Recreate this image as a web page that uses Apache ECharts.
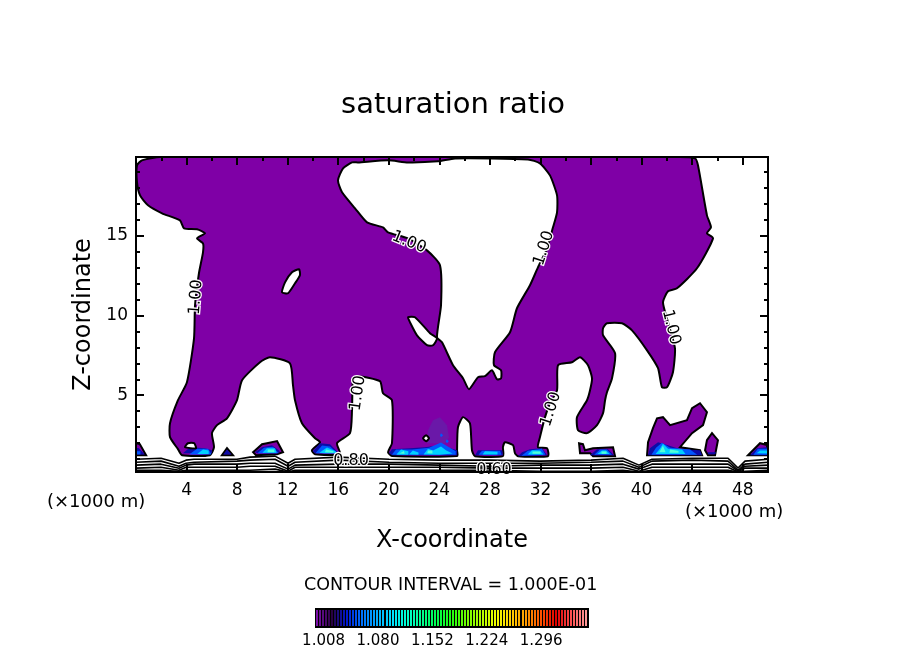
<!DOCTYPE html>
<html>
<head>
<meta charset="utf-8">
<style>html,body{margin:0;padding:0;background:#fff}#main{width:904px;height:654px}</style>
<script src="https://cdn.jsdelivr.net/npm/echarts@6/dist/echarts.min.js"></script>
</head>
<body>
<div id="main"></div>
<script>
// tick labels
var xTicks = [4, 8, 12, 16, 20, 24, 28, 32, 36, 40, 44, 48];
var xMinorTicks = [2, 6, 10, 14, 18, 22, 26, 30, 34, 38, 42, 46];
var zTicks = [5, 10, 15];
var zMinorTicks = [1, 2, 3, 4, 6, 7, 8, 9, 11, 12, 13, 14, 16, 17, 18, 19];
var barTicks = [1.008, 1.080, 1.152, 1.224, 1.296];

// the 1.00 contour, [x, z]
var mainRegion = [[0.08,19.38],[0.08,18.31],[0.32,17.5],[0.95,16.88],[2.06,16.38],[3.48,15.94],[3.8,15.44],[4.83,15.38],[5.46,15.13],[4.83,14.81],[5.3,14.5],[5.3,13.94],[4.98,12.63],[4.67,10.63],[4.59,8.56],[4.03,5.81],[3.32,4.69],[2.69,3.25],[2.69,2.38],[3.32,1.63],[3.64,1.25],[5.85,1.25],[6.17,1.75],[6.01,2.63],[6.41,3.13],[7.2,3.56],[7.99,4.69],[8.39,5.94],[9.81,7.06],[10.6,7.38],[12.18,7],[12.42,5.63],[12.58,4.69],[13.13,3.25],[14.16,2.31],[14.56,2.06],[13.92,1.56],[14.16,1.31],[16.14,1.31],[15.9,2],[16.93,2.63],[17.09,4.06],[17.17,5.94],[17.56,6.19],[19.3,5.88],[19.54,5.13],[20.25,4.69],[20.25,2],[19.94,1.44],[20.25,1.2],[25.4,1.2],[25.4,1.56],[25.47,3],[25.87,3.63],[26.42,3.25],[26.58,1.56],[26.82,1.19],[29.03,1.19],[29.03,1.75],[29.19,2.06],[29.83,1.88],[29.98,1.38],[30.22,1.19],[32.59,1.19],[32.52,1.69],[31.8,1.75],[31.96,2.38],[32.36,3.63],[32.75,4.5],[33.31,5.31],[33.39,6.88],[34.49,7.06],[35.13,7.38],[35.76,6.88],[36.08,6.06],[35.92,5.31],[35.68,4.69],[34.89,3.63],[34.97,2.81],[35.68,2.63],[36.47,3.13],[36.95,3.88],[37.11,4.69],[37.26,5.19],[37.66,6.06],[37.9,7.63],[36.95,8.75],[36.95,9.19],[37.26,9.5],[38.45,9.5],[39.24,9.06],[40.43,7.81],[41.3,6.69],[41.61,5.5],[42.01,5.5],[42.48,6.44],[42.64,7.94],[42.09,9.56],[41.69,10.81],[42.09,11.5],[42.8,11.69],[44.38,12.94],[45.65,14.81],[45.17,15.13],[45.49,15.5],[45.17,16.25],[44.46,19.38],[44.22,19.81],[43.04,19.9],[1.9,19.9],[0.47,19.69]];

// areas below 1.00 inside the main region
var centreGap = [[17.09,19.56],[16.38,19.19],[15.98,18.44],[16.3,17.69],[17.33,16.69],[18.28,15.81],[19.54,15.5],[19.94,15.19],[21.52,14.81],[23.02,14.06],[24.05,13.13],[24.13,10.63],[23.81,8.63],[24.21,8.31],[25.08,6.88],[25.87,6.06],[26.34,5.38],[27.06,6.13],[27.61,6.19],[28.16,6.56],[28.56,6],[28.88,6.06],[28.88,6.56],[28.32,6.88],[28.4,7.69],[29.59,8.94],[30.14,10.44],[31.17,11.88],[31.8,13],[32.52,14.19],[32.99,15.5],[33.31,16.44],[33.31,17.5],[32.75,18.75],[31.96,19.5],[31.01,19.75],[25.24,19.81],[23.89,19.63],[21.52,19.56],[19.94,19.69],[17.56,19.56]];
var gapLensA = [[12.9,12.88],[12.34,12.69],[11.79,12.06],[11.55,11.44],[12.03,11.38],[12.58,12],[12.97,12.5]];
var gapLensB = [[21.52,9.88],[22.07,9.88],[23.26,8.88],[23.81,8.56],[23.5,8.13],[23.02,8.13],[22.23,8.75],[21.68,9.56]];
var gapSmallA = [[3.88,1.75],[4.11,2],[4.59,2],[4.75,1.69]];
var gapSmallB = [[22.71,2.31],[22.95,2.5],[23.18,2.31],[22.95,2.13]];

// separate pieces of the 1.00 contour
var blobEdge = [[0,2],[0.3,1.95],[0.8,1.25],[0,1.25]];
var blob8 = [[7.2,1.69],[7.67,1.25],[6.8,1.25]];
var blob10 = [[9.26,1.44],[9.97,1.94],[10.36,2],[11.16,2.13],[11.63,1.44],[11.16,1.31],[9.49,1.25]];
var blob36 = [[35.05,2],[35.13,1.38],[35.92,1.38],[36.16,1.19],[37.9,1.19],[37.74,1.75],[36.16,1.69],[35.52,1.56],[35.36,1.94]];
var blob42 = [[40.43,1.25],[40.51,2.06],[40.9,2.94],[41.22,3.56],[41.69,3.63],[42.25,3.13],[43.59,3.44],[43.99,4.19],[44.62,4.5],[45.17,3.94],[44.86,3.13],[43.99,2.63],[43.04,1.75],[44.62,1.56],[44.78,1.25]];
var blob45 = [[45.17,2.19],[45.57,2.63],[46.04,2.19],[45.81,1.25],[45.25,1.25],[45.02,1.56]];
var blob49 = [[48.42,1.25],[49.37,2],[49.92,1.88],[50,1.25]];

var dome24 = [[23.02,2],[23.1,2.81],[23.5,3.44],[24.05,3.63],[24.6,3.13],[24.76,2.38],[24.45,2]];

// shaded patches near cloud base
var navyPatches = [
  [[3.72,1.38],[4.27,1.75],[5.46,1.69],[6.01,1.56],[6.01,1.38]],
  [[7.2,1.6],[7.55,1.3],[6.9,1.3]],
  [[0,1.7],[0.2,1.7],[0.7,1.3],[0,1.3]],
  [[9.41,1.44],[9.97,1.75],[10.76,1.88],[11.39,1.5],[11.23,1.38],[9.65,1.38]],
  [[13.99,1.5],[14.56,2],[15.35,1.94],[15.82,1.56],[16.06,1.38],[14.16,1.38]],
  [[20.02,1.38],[20.25,1.63],[21.68,1.69],[22.86,1.75],[24.05,1.88],[25.4,1.56],[25.4,1.25],[20.25,1.25]],
  [[26.82,1.25],[27.06,1.56],[28.96,1.56],[29.03,1.25]],
  [[30.22,1.19],[30.54,1.44],[31.17,1.63],[32.12,1.69],[32.52,1.25]],
  [[35.92,1.25],[36.47,1.63],[37.34,1.63],[37.82,1.25]],
  [[40.51,1.25],[40.66,1.69],[41.3,2.06],[42.09,1.88],[43.04,1.63],[44.62,1.56],[44.78,1.25]],
  [[45.25,1.44],[45.89,1.44],[45.81,1.31],[45.25,1.31]],
  [[48.58,1.25],[49.13,1.69],[49.92,1.75],[50,1.25]]
];
var bluePatches = [
  [[4.2,1.3],[4.83,1.66],[5.7,1.66],[5.98,1.3]],
  [[0,1.5],[0.35,1.5],[0.35,1.3],[0,1.3]],
  [[9.6,1.38],[10.13,1.72],[10.84,1.78],[11.28,1.38]],
  [[14.2,1.38],[14.72,1.85],[15.35,1.8],[15.95,1.38]],
  [[20.25,1.3],[20.57,1.6],[21.84,1.6],[23.18,1.72],[24.13,2.05],[25.3,1.5],[25.3,1.28],[20.33,1.28]],
  [[24.05,2.5],[24.13,2.63],[24.3,2.5],[24.13,2.38]],
  [[24.5,2.13],[24.6,2.25],[24.75,2.13],[24.6,2]],
  [[27.1,1.28],[27.37,1.53],[28.8,1.53],[28.92,1.28]],
  [[30.5,1.22],[31.01,1.53],[32.12,1.66],[32.4,1.28]],
  [[36.25,1.28],[36.71,1.6],[37.26,1.6],[37.65,1.28]],
  [[40.78,1.28],[41.14,1.72],[41.61,2.03],[42.25,1.72],[43.83,1.6],[44.4,1.28]],
  [[48.85,1.28],[49.2,1.66],[50,1.66],[50,1.28]]
];
var cyanPatches = [
  [[4.85,1.32],[5.3,1.6],[5.75,1.55],[5.75,1.32]],
  [[10,1.4],[10.36,1.68],[11,1.68],[11.12,1.4]],
  [[14.5,1.4],[15.11,1.74],[15.8,1.5],[15.8,1.38],[14.9,1.38]],
  [[20.6,1.3],[20.97,1.6],[21.55,1.5],[21.55,1.28],[20.7,1.28]],
  [[21.6,1.3],[21.9,1.55],[22.35,1.42],[22.35,1.28]],
  [[22.75,1.3],[23.1,1.66],[23.5,1.55],[24.13,1.8],[24.55,1.55],[25.05,1.35],[24,1.28]],
  [[27.42,1.3],[27.61,1.5],[28.6,1.47],[28.6,1.3]],
  [[30.98,1.3],[31.33,1.56],[31.96,1.55],[32.24,1.3]],
  [[36.5,1.32],[36.87,1.55],[37.18,1.55],[37.46,1.32]],
  [[41.1,1.32],[41.45,1.66],[41.69,1.97],[42.09,1.66],[43.2,1.6],[43.47,1.32]],
  [[49.1,1.38],[49.37,1.55],[50,1.55],[50,1.35]]
];
var palePatches = [
  [[10.4,1.44],[10.44,1.6],[10.92,1.6],[10.96,1.44]],
  [[14.95,1.44],[15.03,1.6],[15.62,1.5],[15.62,1.4]],
  [[20.85,1.36],[21.2,1.52],[21.25,1.34]],
  [[23.05,1.38],[23.1,1.54],[23.45,1.54],[23.45,1.36]],
  [[31.37,1.34],[31.37,1.48],[32,1.48],[32,1.34]],
  [[36.83,1.34],[36.83,1.48],[37.22,1.48],[37.22,1.34]],
  [[41.4,1.44],[41.69,1.84],[41.9,1.44]],
  [[42.2,1.4],[42.25,1.6],[42.92,1.52],[42.92,1.4]]
];

// low contours along the ground
var groundX = [0,1.98,3.4,3.96,4.59,7.99,9.02,11,12.03,12.58,15.98,20.02,23.97,28,31.96,36,38.53,39.79,40.82,43.99,46.84,47.63,48.18,50];
var ground1 = [1,1.06,0.75,0.94,1,1,1.13,1.19,0.75,1,1.13,1,0.94,0.94,0.88,0.94,1.06,0.63,1,1.06,1.06,0.44,0.88,1];
var ground2 = [0.81,0.88,0.56,0.75,0.81,0.88,0.94,1,0.56,0.81,0.94,0.81,0.75,0.75,0.75,0.81,0.88,0.5,0.88,0.94,0.88,0.31,0.69,0.81];
var ground3 = [0.63,0.69,0.44,0.63,0.69,0.69,0.75,0.75,0.38,0.63,0.69,0.69,0.63,0.56,0.63,0.63,0.69,0.38,0.69,0.69,0.69,0.25,0.56,0.63];
var ground4 = [0.44,0.5,0.31,0.5,0.5,0.5,0.56,0.56,0.25,0.5,0.5,0.5,0.5,0.44,0.44,0.44,0.5,0.25,0.5,0.5,0.5,0.2,0.44,0.44];
var ground5 = [0.31,0.31,0.25,0.31,0.31,0.31,0.31,0.38,0.2,0.31,0.31,0.31,0.31,0.31,0.25,0.25,0.31,0.2,0.31,0.31,0.31,0.2,0.25,0.31];

// contour labels
var labelText = ['1.00', '1.00', '1.00', '1.00', '1.00', '1.00', '0.80', '0.60'];
var labelX = [4.75, 21.6, 32.28, 42.33, 17.56, 32.83, 17.01, 28.32];
var labelZ = [11.13, 14.56, 14.19, 9.25, 5.13, 4.13, 0.88, 0.31];
var labelAngle = [85, -22, 72, -76, 82, 72, 0, 0];

// colour bar
var barLevels = [
  1.000, 1.004, 1.008, 1.012, 1.016, 1.020, 1.024, 1.028, 1.032, 1.036, 1.040, 1.044, 1.048, 1.052, 1.056,
  1.060, 1.064, 1.068, 1.072, 1.076, 1.080, 1.084, 1.088, 1.092, 1.096, 1.100, 1.104, 1.108, 1.112, 1.116,
  1.120, 1.124, 1.128, 1.132, 1.136, 1.140, 1.144, 1.148, 1.152, 1.156, 1.160, 1.164, 1.168, 1.172, 1.176,
  1.180, 1.184, 1.188, 1.192, 1.196, 1.200, 1.204, 1.208, 1.212, 1.216, 1.220, 1.224, 1.228, 1.232, 1.236,
  1.240, 1.244, 1.248, 1.252, 1.256, 1.260, 1.264, 1.268, 1.272, 1.276, 1.280, 1.284, 1.288, 1.292, 1.296,
  1.300, 1.304, 1.308, 1.312, 1.316, 1.320, 1.324, 1.328, 1.332, 1.336, 1.340, 1.344, 1.348, 1.352, 1.356
];
var barPalette = ['#7a10a8', '#280040', '#0018d0', '#0070ff', '#00a8ff', '#00e0ff', '#00ffd0', '#00ff90', '#00ff50', '#20ff10', '#70ff00', '#b0ff00', '#f0ff00', '#ffd000', '#ff9800', '#ff5000', '#e00000', '#ff5050', '#ff9898'];

var FONT = 'DejaVu Sans';
var PURPLE = '#7f00a6';

function polygons(list, fill, stroke, lineWidth, smooth) {
    return {
        type: 'custom',
        coordinateSystem: 'cartesian2d',
        clip: true,
        silent: true,
        data: list.map(function (p, i) { return [i]; }),
        encode: { x: 0 },
        renderItem: function (params, api) {
            return {
                type: 'polygon',
                shape: { points: list[params.dataIndex].map(function (p) { return api.coord(p); }), smooth: smooth || 0 },
                style: { fill: fill, stroke: stroke || null, lineWidth: lineWidth || 0 }
            };
        }
    };
}

function groundLine(values) {
    return {
        type: 'line',
        data: groundX.map(function (x, i) { return [x, values[i]]; }),
        symbol: 'none',
        silent: true,
        lineStyle: { color: '#000', width: 1.6 }
    };
}

// one set of ticks on one side of the frame
function tickAxis(kind, position, values, length, extra) {
    var axis = {
        type: 'value',
        position: position,
        min: kind === 'x' ? 0 : 0.2,
        max: kind === 'x' ? 50 : 19.9,
        z: 5,
        splitLine: { show: false },
        axisLine: { show: true, onZero: false, lineStyle: { color: '#000', width: 2 } },
        axisTick: { show: true, inside: true, length: length, customValues: values, lineStyle: { color: '#000', width: 2 } },
        axisLabel: { show: false }
    };
    return Object.assign(axis, extra || {});
}

var tickLabel = { show: true, color: '#000', fontFamily: FONT, fontSize: 17 };

var series = [
    polygons([mainRegion], PURPLE, '#000', 2, 0.2),
    polygons([blobEdge, blob8, blob10, blob36, blob42, blob45, blob49], PURPLE, '#000', 2),
    polygons([dome24], '#6a18a8'),
    polygons(navyPatches, '#0c0ca8'),
    polygons(bluePatches, '#0058ff'),
    polygons(cyanPatches, '#00d0ff'),
    polygons(palePatches, '#50ffd8'),
    polygons([centreGap, gapLensA, gapLensB, gapSmallA, gapSmallB], '#fff', '#000', 2, 0.2),
    groundLine(ground1),
    groundLine(ground2),
    groundLine(ground3),
    groundLine(ground4),
    groundLine(ground5),
    {
        type: 'custom',
        silent: true,
        z: 4,
        data: labelText.map(function (t, i) { return [labelX[i], labelZ[i]]; }),
        encode: { x: 0, y: 1 },
        renderItem: function (params, api) {
            var i = params.dataIndex;
            var p = api.coord([labelX[i], labelZ[i]]);
            return {
                type: 'text',
                x: p[0],
                y: p[1],
                rotation: labelAngle[i] * Math.PI / 180,
                style: {
                    text: labelText[i],
                    align: 'center',
                    verticalAlign: 'middle',
                    font: '16px "' + FONT + '"',
                    fill: '#000',
                    stroke: '#fff',
                    lineWidth: 2.5,
                    strokeFirst: true
                }
            };
        }
    },
    {
        type: 'custom',
        xAxisIndex: 4,
        yAxisIndex: 4,
        silent: true,
        data: barLevels.map(function (v) { return [v]; }),
        encode: { x: 0 },
        renderItem: function (params, api) {
            var v = api.value(0);
            var a = api.coord([v - 0.002, 1]);
            var b = api.coord([v + 0.002, 0]);
            var x0 = Math.round(a[0]);
            return {
                type: 'rect',
                shape: { x: x0, y: a[1] + 1, width: 2, height: b[1] - a[1] - 2 },
                style: { fill: echarts.color.lerp(params.dataIndex / (barLevels.length - 1), barPalette) }
            };
        }
    }
];

var option = {
    animation: false,
    backgroundColor: '#fff',
    title: {
        text: 'saturation ratio',
        left: 448,
        top: 86,
        textAlign: 'center',
        textStyle: { color: '#000', fontFamily: FONT, fontWeight: 'normal', fontSize: 29 }
    },
    grid: [
        { left: 136, width: 632, top: 157, height: 315 },
        { left: 316, width: 272, top: 609, height: 18, show: true, backgroundColor: '#000', borderColor: '#000', borderWidth: 2 }
    ],
    xAxis: [
        tickAxis('x', 'bottom', xTicks, 8, {
            axisLabel: Object.assign({ customValues: xTicks, margin: 10 }, tickLabel),
            name: 'X-coordinate',
            nameLocation: 'middle',
            nameGap: 57,
            nameTextStyle: { color: '#000', fontFamily: FONT, fontSize: 24 }
        }),
        tickAxis('x', 'top', xTicks, 8),
        tickAxis('x', 'top', xMinorTicks, 4),
        tickAxis('x', 'bottom', [], 4),
        {
            type: 'value', gridIndex: 1, min: 0.998, max: 1.358,
            splitLine: { show: false },
            axisLine: { show: false },
            axisTick: { show: false },
            axisLabel: {
                show: true, customValues: barTicks, margin: 7, color: '#000', fontFamily: FONT, fontSize: 15,
                formatter: function (v) { return v.toFixed(3); }
            }
        }
    ],
    yAxis: [
        tickAxis('z', 'left', zTicks, 8, {
            axisLabel: Object.assign({ customValues: zTicks, margin: 8 }, tickLabel),
            name: 'Z-coordinate',
            nameLocation: 'middle',
            nameGap: 38,
            nameRotate: 90,
            nameTextStyle: { color: '#000', fontFamily: FONT, fontSize: 24 }
        }),
        tickAxis('z', 'right', zTicks, 8),
        tickAxis('z', 'left', zMinorTicks, 4),
        tickAxis('z', 'right', zMinorTicks, 4),
        {
            type: 'value', gridIndex: 1, min: 0, max: 1,
            splitLine: { show: false }, axisLine: { show: false }, axisTick: { show: false }, axisLabel: { show: false }
        }
    ],
    graphic: [
        { type: 'text', left: 47, top: 493, style: { text: '(\u00d71000 m)', fill: '#000', font: '18px "' + FONT + '"' } },
        { type: 'text', left: 685, top: 503, style: { text: '(\u00d71000 m)', fill: '#000', font: '18px "' + FONT + '"' } },
        { type: 'text', left: 304, top: 576, style: { text: 'CONTOUR INTERVAL = 1.000E-01', fill: '#000', font: '17.5px "' + FONT + '"' } }
    ],
    series: series
};

var myChart = echarts.init(document.getElementById('main'));
myChart.setOption(option);
</script>
</body>
</html>
